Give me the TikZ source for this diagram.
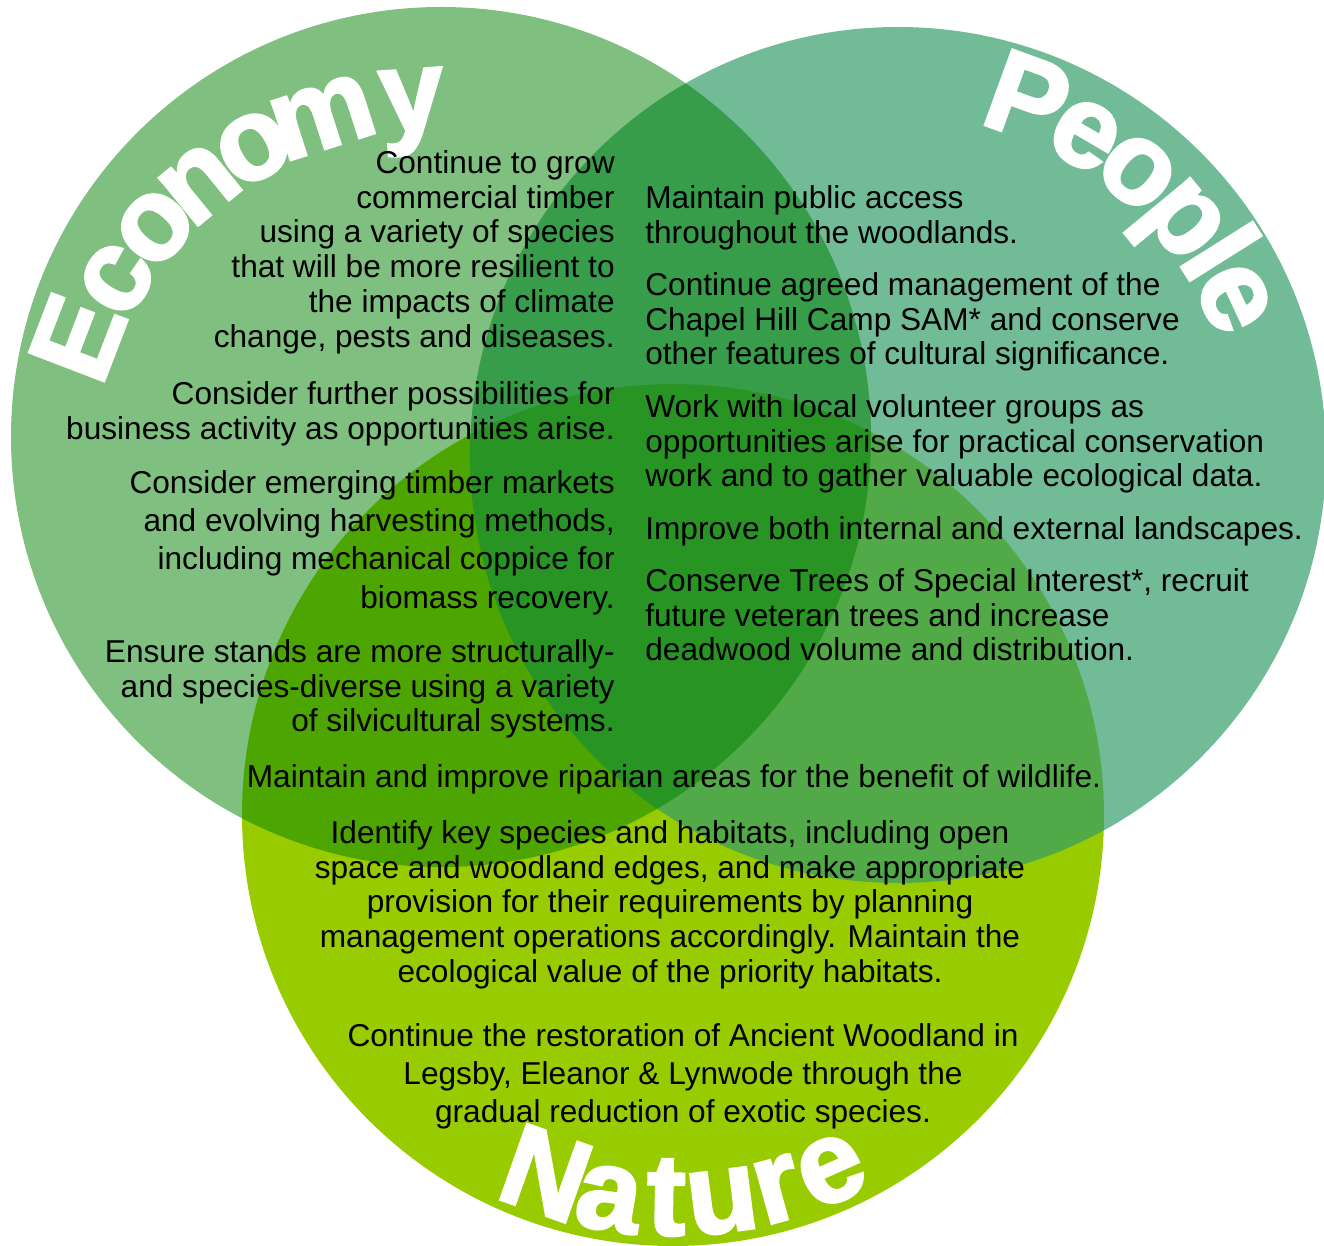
\documentclass[tikz,border=0pt]{standalone}
\usepackage{fontspec}
\setmainfont{Liberation Sans}
\newfontfamily\bigfont[FakeBold=2.5]{Liberation Sans Bold}
\usetikzlibrary{calc}
\definecolor{naturegreen}{HTML}{99CC00}
\definecolor{peoplegreen}{RGB}{49,156,104}
\definecolor{economygreen}{RGB}{0,128,0}

\begin{document}
\begin{tikzpicture}[x=0.02cm,y=0.02cm,
    body text/.style={inner sep=0pt,font=\fontsize{18}{19.8}\selectfont},
    loose text/.style={inner sep=0pt,font=\fontsize{18}{21.8}\selectfont},
    econ text/.style={align=right,anchor=north east},
    people text/.style={align=left,anchor=north west},
    nature text/.style={align=center,anchor=north},
    big letter/.style={text=white,inner sep=0pt,anchor=base,
                       font=\fontsize{66}{66}\selectfont\bigfont}]

  \useasboundingbox (0,0) rectangle (1324,1245);

  % the three circles
  \fill[naturegreen] (673,430) circle [radius=431];
  \fill[peoplegreen,fill opacity=0.69] (898,790) circle [radius=428];
  \fill[economygreen,fill opacity=0.5] (441,808) circle [radius=430];

  % labels along the rims
  \foreach \ch/\a [count=\i] in {E/159,c/148.5,o/138.7,n/129.2,o/119.3,m/107.8,y/94}
    \node[big letter,rotate=\a-90] (econ\i) at ($(438,769)+(\a:346)$) {\ch};
  \foreach \ch/\a [count=\i] in {P/70,e/59.7,o/49.8,p/39.5,l/32.2,e/25}
    \node[big letter,rotate=\a-90] (people\i) at ($(898,790)+(\a:340)$) {\ch};
  \foreach \ch/\a [count=\i] in {N/250.5,a/260.5,t/269,u/277.3,r/285.6,e/294}
    \node[big letter,rotate=\a+90] (nature\i) at ($(673,430)+(\a:420)$) {\ch};

  % economy
  \node[body text,econ text] (grow) at (615,1095) {Continue to grow\\commercial timber\\using a variety of species\\that will be more resilient to\\the impacts of climate\\change, pests and diseases.};
  \node[body text,econ text] (business) at (615,864) {Consider further possibilities for\\business activity as opportunities arise.};
  \node[loose text,econ text] (markets) at (615,775) {Consider emerging timber markets\\and evolving harvesting methods,\\including mechanical coppice for\\biomass recovery.};
  \node[body text,econ text] (stands) at (615,606) {Ensure stands are more structurally-\\and species-diverse using a variety\\of silvicultural systems.};

  % people
  \node[body text,people text] (access) at (645,1060) {Maintain public access\\throughout the woodlands.};
  \node[body text,people text] (camp) at (645,973) {Continue agreed management of the\\Chapel Hill Camp SAM* and conserve\\other features of cultural significance.};
  \node[body text,people text] (volunteer) at (645,851) {Work with local volunteer groups as\\opportunities arise for practical conservation\\work and to gather valuable ecological data.};
  \node[body text,people text] (landscape) at (645,729) {Improve both internal and external landscapes.};
  \node[body text,people text] (veteran) at (645,677) {Conserve Trees of Special Interest*, recruit\\future veteran trees and increase\\deadwood volume and distribution.};

  % nature
  \node[body text,nature text] (riparian) at (674,481) {Maintain and improve riparian areas for the benefit of wildlife.};
  \node[body text,nature text] (habitats) at (670,425) {Identify key species and habitats, including open\\space and woodland edges, and make appropriate\\provision for their requirements by planning\\management operations accordingly. Maintain the\\ecological value of the priority habitats.};
  \node[loose text,nature text] (ancient) at (683,222) {Continue the restoration of Ancient Woodland in\\Legsby, Eleanor \& Lynwode through the\\gradual reduction of exotic species.};
\end{tikzpicture}
\end{document}
